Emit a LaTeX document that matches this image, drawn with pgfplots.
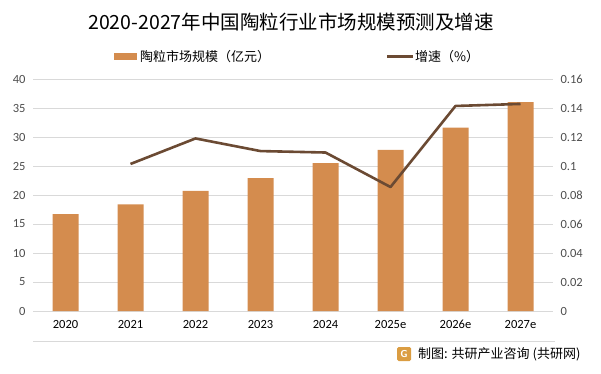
\documentclass[border=0pt]{standalone}
\usepackage{pgfplots}
\pgfplotsset{compat=1.18}
\usepackage{fontspec}
\setmainfont{Carlito}
\newfontfamily\cjk{Noto Sans CJK SC}
\definecolor{barc}{HTML}{D48C4E}
\definecolor{linec}{HTML}{6B4A33}
\definecolor{gridc}{HTML}{D9D9D9}
\definecolor{tickc}{HTML}{4D4D4D}
\begin{document}
\begin{tikzpicture}[x=1pt,y=1pt]
\path[use as bounding box] (0,0) rectangle (601,373);
\begin{axis}[
  at={(33pt,62pt)}, anchor=south west,
  scale only axis, width=520pt, height=232pt,
  xmin=-0.5, xmax=7.5, ymin=0, ymax=40,
  ytick={0,5,...,40},
  xtick={0,...,7},
  xticklabels={2020,2021,2022,2023,2024,2025e,2026e,2027e},
  axis y line*=left, axis x line*=bottom,
  axis line style={draw=none},
  major tick length=0pt,
  ymajorgrids, grid style={gridc, line width=0.8pt},
  yticklabel style={font=\fontsize{12.5}{12.5}\selectfont, text=tickc, xshift=-4pt},
  xticklabel style={font=\fontsize{12.5}{12.5}\selectfont, text=black, yshift=-6pt},
  /pgf/number format/assume math mode=true,
  clip=false,
]
\addplot[ybar, bar width=26pt, bar shift=0pt, fill=barc, draw=none] coordinates {
 (0,16.7) (1,18.4) (2,20.7) (3,22.9) (4,25.5) (5,27.8) (6,31.6) (7,36.0)};
\end{axis}
\begin{axis}[
  at={(33pt,62pt)}, anchor=south west,
  scale only axis, width=520pt, height=232pt,
  xmin=-0.5, xmax=7.5, ymin=0, ymax=0.16,
  ytick={0,0.02,...,0.16},
  yticklabels={0,0.02,0.04,0.06,0.08,0.1,0.12,0.14,0.16},
  axis y line*=right, axis x line=none,
  axis line style={draw=none},
  major tick length=0pt,
  yticklabel style={font=\fontsize{12.5}{12.5}\selectfont, text=tickc, xshift=4pt},
  /pgf/number format/assume math mode=true,
  clip=false,
]
\addplot[linec, line width=2.6pt, line join=round] coordinates {
 (1,0.1014) (2,0.119) (3,0.1103) (4,0.1093) (5,0.0855) (6,0.1414) (7,0.1428)};
\end{axis}
\node[font=\cjk\fontsize{19.5}{19.5}\selectfont] at (291,351) {2020-2027年中国陶粒行业市场规模预测及增速};
\fill[barc] (114,313) rectangle (137,320);
\node[anchor=west, font=\cjk\fontsize{13}{13}\selectfont, inner sep=0] at (140,316.5) {陶粒市场规模（亿元）};
\draw[linec, line width=2.6pt] (387,316.5) -- (413,316.5);
\node[anchor=west, font=\cjk\fontsize{13}{13}\selectfont, inner sep=0] at (415,316.5) {增速（\%）};
\draw[gridc, line width=0.8pt] (33,32) -- (555,32);
\fill[barc!85!yellow, rounded corners=1.5pt] (397,12) rectangle (411,26);
\node[font=\sffamily\bfseries\fontsize{10}{10}\selectfont, text=white] at (404,19) {G};
\node[anchor=west, font=\cjk\fontsize{13}{13}\selectfont, inner sep=0] at (418,19) {制图: 共研产业咨询 (共研网)};
\end{tikzpicture}
\end{document}
